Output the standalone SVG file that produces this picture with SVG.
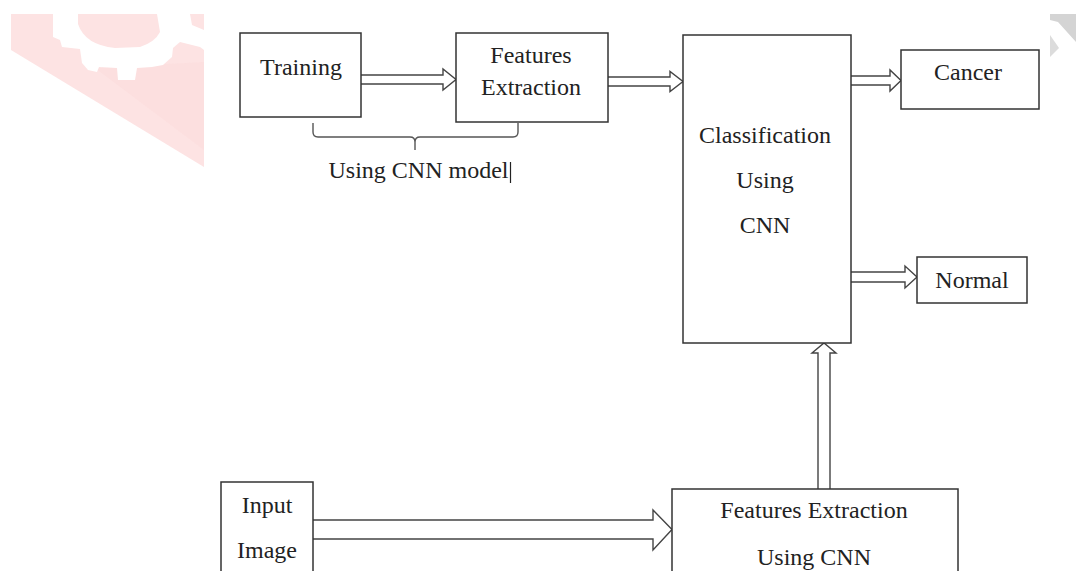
<svg xmlns="http://www.w3.org/2000/svg" width="1076" height="571" viewBox="0 0 1076 571">
<style>
.box{fill:#fff;stroke:#333;stroke-width:1.5}
.lbl{font-family:"Liberation Serif","Times New Roman",serif;font-size:24px;fill:#222;text-anchor:middle}
.arr{fill:#fff;stroke:#444;stroke-width:1.4;stroke-linejoin:miter}
.brace{fill:none;stroke:#555;stroke-width:1.4}
</style>
<rect width="1076" height="571" fill="#fff"/>
<g id="watermark">
<polygon points="11,14 204,14 204,167 11,50" fill="#fde3e3"/>
<polygon points="95,68 204,62 204,150" fill="#fcdcdc" opacity="0.6"/>
<polygon points="53,14 53,37 60,40 62,47 80,49 82,63 88,70 97,72 99,67 117,68 118,80 135,80 137,68 152,67 163,65 172,57 173,48 180,42 200,47 204,50 204,30 192,25 190,14" fill="#fff"/>
<path d="M78,14 L78,24 Q85,45 115,48 L140,47 Q155,42 160,32 L157,14 Z" fill="#fde3e3"/>
<polygon points="1050,14 1076,14 1076,42 1058,22 1050,20" fill="#d4d4d4"/>
<polygon points="1050,35 1059,48 1050,57" fill="#dcdcdc"/>
</g>
<g id="connectors">
<path class="arr" d="M361,75 H443 V69 L456,79.5 L443,90 V84 H361"/>
<path class="arr" d="M608,77 H670 V71.5 L683,81.5 L670,91.5 V86 H608"/>
<path class="arr" d="M851,76 H890 V70 L901,80.5 L890,91 V85 H851"/>
<path class="arr" d="M851,272 H905 V266 L917,277 L905,288 V282 H851"/>
<path class="arr" d="M313,520 H653 V510 L672,529.5 L653,550 V539 H313"/>
<path class="arr" d="M818,489 V353 H812 L824,343 L836,353 H830 V489"/>
<path class="brace" d="M313,123 V132 Q313,137 318,137 H410 Q415,137 415,142 V150 M415,142 Q415,137 420,137 H513 Q518,137 518,132 V123"/>
</g>
<g id="training">
<rect class="box" x="240" y="33" width="121" height="84"/>
<text class="lbl" x="301" y="75">Training</text>
</g>
<g id="features1">
<rect class="box" x="456" y="33" width="152" height="89"/>
<text class="lbl" x="531" y="63">Features</text>
<text class="lbl" x="531" y="95">Extraction</text>
</g>
<g id="brace-label">
<text class="lbl" x="418.5" y="178">Using CNN model</text>
<line x1="510.5" y1="162" x2="510.5" y2="183" stroke="#222" stroke-width="1.2"/>
</g>
<g id="classification">
<rect class="box" x="683" y="35" width="168" height="308"/>
<text class="lbl" x="765" y="143">Classification</text>
<text class="lbl" x="765" y="188">Using</text>
<text class="lbl" x="765" y="233">CNN</text>
</g>
<g id="cancer">
<rect class="box" x="901" y="50" width="138" height="59"/>
<text class="lbl" x="968" y="80">Cancer</text>
</g>
<g id="normal">
<rect class="box" x="917" y="257" width="110" height="46"/>
<text class="lbl" x="972" y="288">Normal</text>
</g>
<g id="input">
<rect class="box" x="221" y="482" width="92" height="110"/>
<text class="lbl" x="267" y="513">Input</text>
<text class="lbl" x="267" y="558">Image</text>
</g>
<g id="features2">
<rect class="box" x="672" y="489" width="286" height="110"/>
<text class="lbl" x="814" y="518">Features Extraction</text>
<text class="lbl" x="814" y="565">Using CNN</text>
</g>
</svg>
